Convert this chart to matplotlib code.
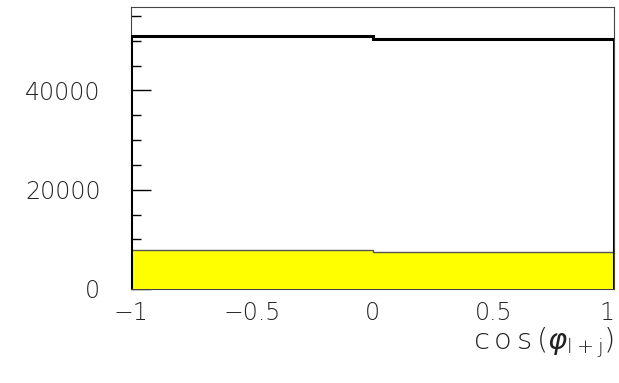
import matplotlib
matplotlib.use('Agg')
import matplotlib.pyplot as plt
from matplotlib.ticker import MultipleLocator
import numpy as np

# histogram contents, 2 bins over cos(phi)
bin_edges = [-1.0, 0.0, 1.0]
total_counts = [51050, 50380]
filled_counts = [7860, 7455]
x_ticks = [-1, -0.5, 0, 0.5, 1]
x_tick_labels = ['\u22121', '\u22120.5', '0', '0.5', '1']
y_ticks = [0, 20000, 40000]

plt.rcParams['font.family'] = ['DejaVu Sans']
plt.rcParams['font.weight'] = 'light'
plt.rcParams['mathtext.fontset'] = 'custom'
plt.rcParams['mathtext.rm'] = 'DejaVu Sans:light'
plt.rcParams['mathtext.it'] = 'DejaVu Sans:italic:light'

fig = plt.figure(figsize=(6.19, 3.83), dpi=100)
ax = fig.add_axes([131 / 619, 1 - 289 / 383, (614 - 131) / 619, (289 - 7) / 383])

edges = np.array(bin_edges)
ax.stairs(filled_counts, edges, fill=True, color='#ffff00', zorder=3)
ax.stairs(filled_counts, edges, color='#555555', linewidth=1.0, zorder=4)
ax.stairs(total_counts, edges, baseline=0, color='black', linewidth=2.2, zorder=5)

ax.set_xlim(-1, 1)
ax.set_ylim(0, 56800)

ax.set_xticks(x_ticks)
ax.set_xticklabels(x_tick_labels)
ax.set_yticks(y_ticks)
ax.set_yticklabels([str(v) for v in y_ticks])
ax.yaxis.set_minor_locator(MultipleLocator(5000))
ax.get_xticklabels()[-1].set_horizontalalignment('right')
ax.get_xticklabels()[-1].set_x(0.995)

ax.tick_params(axis='x', length=0, pad=9, labelsize=17)
ax.tick_params(axis='y', which='major', direction='in', length=14.5, width=1,
               pad=22, labelsize=17)
ax.tick_params(axis='y', which='minor', direction='in', length=7, width=1)
ax.tick_params(axis='both', which='both', labelcolor='#222222', color='black')

for s in ax.spines.values():
    s.set_linewidth(0.8)
    s.set_color('#444444')

ax.set_xlabel(r'$\mathrm{c\,o\,s}\,(\varphi_{\mathrm{l+j}})$', loc='right',
              fontsize=21, labelpad=0, color='#222222')

fig.savefig('out.png', dpi=100)
